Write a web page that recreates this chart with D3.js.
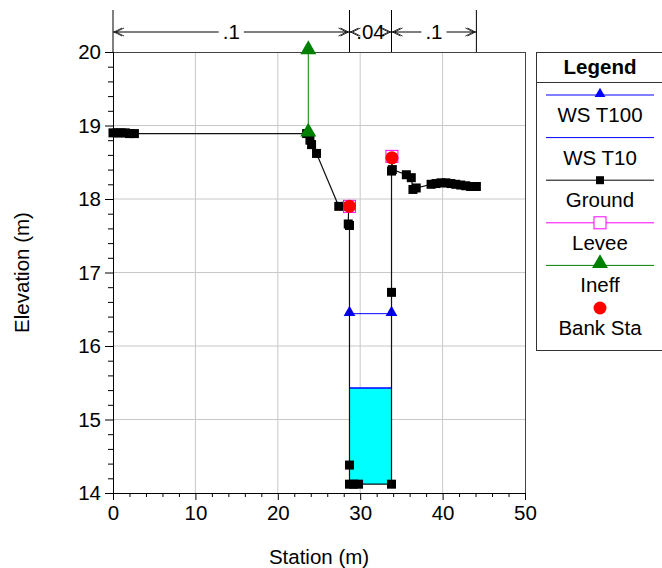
<!DOCTYPE html>
<html><head><meta charset="utf-8">
<script src="https://cdn.jsdelivr.net/npm/d3@7"></script>
<style>
html,body{margin:0;padding:0;background:#fff;}
svg{display:block;font-family:"Liberation Sans",Arial,sans-serif;}
</style></head>
<body><svg id="c" width="662" height="568"></svg>
<script>
// ---- data ----
const xTicks = [0,10,20,30,40,50];
const yTicks = [14,15,16,17,18,19,20];
const groundSta  = [0,0.5,1,1.5,2,2.6,23.5,23.9,24.1,24.7,27.4,28.6,28.55,28.7,28.7,28.7,29.2,29.8,33.8,33.8,33.8,33.85,33.9,35.6,36.2,36.4,36.8,38.6,39.2,39.8,40.4,41,41.6,42.2,42.8,43.4,44.1];
const groundElev = [18.9,18.9,18.9,18.9,18.89,18.89,18.89,18.8,18.74,18.62,17.9,17.9,17.66,17.64,14.38,14.12,14.12,14.12,14.12,16.73,18.38,18.56,18.4,18.33,18.29,18.13,18.15,18.2,18.21,18.22,18.22,18.21,18.2,18.19,18.18,18.17,18.17];
const wsT100Sta = [28.7,33.8];
const wsT100Elev = 16.44;
const wsT10Sta = [28.7,33.8];
const wsT10Elev = 15.43;
const leveeSta = [28.7,33.85];
const leveeElev = [17.9,18.58];
const ineffSta = [23.7,23.7];
const ineffElev = [18.9,20.02];
const bankSta = [28.7,33.85];
const bankElev = [17.9,18.56];
const nBreaks = [0,28.7,33.8,44.1];
const nValues = [".1",".04",".1"];
const legendItems = ["WS T100","WS T10","Ground","Levee","Ineff","Bank Sta"];

// ---- chart ----
const svg = d3.select("#c");
const x = d3.scaleLinear().domain([0,50]).range([113,525]);
const y = d3.scaleLinear().domain([14,20]).range([493,52]);
const FS = 20.5;
const FF = "Liberation Sans, Arial, sans-serif";

// grid
const g = svg.append("g");
g.selectAll(".gx").data(xTicks.slice(1,-1)).enter().append("line")
 .attr("x1",d=>x(d)).attr("x2",d=>x(d)).attr("y1",y(14)).attr("y2",y(20))
 .attr("stroke","#c8c8c8").attr("stroke-width",1);
g.selectAll(".gy").data(yTicks.slice(1,-1)).enter().append("line")
 .attr("y1",d=>y(d)).attr("y2",d=>y(d)).attr("x1",x(0)).attr("x2",x(50))
 .attr("stroke","#c8c8c8").attr("stroke-width",1);

// frame top/right
svg.append("line").attr("x1",x(0)).attr("x2",x(50)).attr("y1",y(20)+0.5).attr("y2",y(20)+0.5).attr("stroke","#444");
svg.append("line").attr("x1",x(50)+0.5).attr("x2",x(50)+0.5).attr("y1",y(20)).attr("y2",y(14)).attr("stroke","#444");

// axes
const xAxis = d3.axisBottom(x).tickValues(xTicks).tickSize(7).tickPadding(5).tickFormat(d3.format("d"));
const xg = svg.append("g").attr("transform",`translate(0,${y(14)})`).call(xAxis);
xg.attr("font-size",FS).attr("font-family",FF);
xg.selectAll("text").attr("fill","#000");
xg.select(".domain").attr("stroke","#000");
const xMinor = d3.axisBottom(x).tickValues(d3.range(0,51,2).filter(v=>v%10!==0)).tickSize(4).tickFormat("");
svg.append("g").attr("transform",`translate(0,${y(14)})`).call(xMinor).select(".domain").remove();

const yAxis = d3.axisLeft(y).tickValues(yTicks).tickSize(8).tickPadding(4).tickFormat(d3.format("d"));
const yg = svg.append("g").attr("transform",`translate(${x(0)},0)`).call(yAxis);
yg.attr("font-size",FS).attr("font-family",FF);
yg.selectAll("text").attr("fill","#000");
yg.select(".domain").attr("stroke","#000");
const yMinorVals = d3.range(140,201,2).map(v=>v/10).filter(v=>Math.abs(v-Math.round(v))>1e-6);
const yMinor = d3.axisLeft(y).tickValues(yMinorVals).tickSize(5).tickFormat("");
svg.append("g").attr("transform",`translate(${x(0)},0)`).call(yMinor).select(".domain").remove();

// axis titles
svg.append("text").attr("x",(x(0)+x(50))/2).attr("y",564).attr("text-anchor","middle").attr("font-size",FS).text("Station (m)");
svg.append("text").attr("transform",`translate(29,${(y(14)+y(20))/2}) rotate(-90)`).attr("text-anchor","middle").attr("font-size",FS).text("Elevation (m)");

// water T10 fill
const wetPts = [[wsT10Sta[0],wsT10Elev]];
groundSta.forEach((s,i)=>{ if(s>=wsT10Sta[0] && s<=wsT10Sta[1] && groundElev[i]<wsT10Elev) wetPts.push([s,groundElev[i]]); });
wetPts.push([wsT10Sta[1],wsT10Elev]);
svg.append("path").attr("d", d3.line().x(d=>x(d[0])).y(d=>y(d[1]))(wetPts)+"Z")
 .attr("fill","#00ffff").attr("stroke","none");
svg.append("line").attr("x1",x(wsT10Sta[0])).attr("x2",x(wsT10Sta[1])).attr("y1",y(wsT10Elev)).attr("y2",y(wsT10Elev)).attr("stroke","#0000ff").attr("stroke-width",1.5);

// WS T100
svg.append("line").attr("x1",x(wsT100Sta[0])).attr("x2",x(wsT100Sta[1])).attr("y1",y(wsT100Elev)).attr("y2",y(wsT100Elev)).attr("stroke","#0000ff").attr("stroke-width",1);
const tri = d3.symbol().type(d3.symbolTriangle);
svg.selectAll(".t100").data(wsT100Sta).enter().append("path")
 .attr("d",tri.size(60)()).attr("transform",d=>`translate(${x(d)},${y(wsT100Elev)-1})`).attr("fill","#0000ff");

// ground
const gline = d3.line().x((d,i)=>x(groundSta[i])).y((d,i)=>y(groundElev[i]));
svg.append("path").attr("d",gline(groundSta)).attr("fill","none").attr("stroke","#111").attr("stroke-width",1.2);
svg.selectAll(".gm").data(groundSta).enter().append("rect")
 .attr("x",(d)=>x(d)-4.5).attr("y",(d,i)=>y(groundElev[i])-4.5).attr("width",9).attr("height",9).attr("fill","#000");

// ineff
svg.append("line").attr("x1",x(ineffSta[0])).attr("x2",x(ineffSta[1])).attr("y1",y(ineffElev[0])).attr("y2",y(ineffElev[1])).attr("stroke","#008000").attr("stroke-width",1);
svg.selectAll(".im").data(ineffSta).enter().append("path")
 .attr("d",tri.size(110)()).attr("transform",(d,i)=>`translate(${x(d)},${y(ineffElev[i])-1})`).attr("fill","#008000");

// levee
svg.selectAll(".lv").data(leveeSta).enter().append("rect")
 .attr("x",d=>x(d)-6).attr("y",(d,i)=>y(leveeElev[i])-6).attr("width",12).attr("height",12)
 .attr("fill","none").attr("stroke","#ff00ff").attr("stroke-width",1);
// bank
svg.selectAll(".bk").data(bankSta).enter().append("circle")
 .attr("cx",d=>x(d)).attr("cy",(d,i)=>y(bankElev[i])).attr("r",6.5).attr("fill","#ff0000");

// n values annotation
const nTop = 10, nY = 32;
svg.selectAll(".nb").data(nBreaks).enter().append("line")
 .attr("x1",d=>x(d)).attr("x2",d=>x(d)).attr("y1",nTop).attr("y2",y(20)).attr("stroke","#000");
const nG = svg.append("g");
nValues.forEach((v,i)=>{
  const a = x(nBreaks[i]), b = x(nBreaks[i+1]), m=(a+b)/2;
  const lineG = nG.append("g");
  const t = nG.append("text").attr("x",m).attr("y",nY+7).attr("text-anchor","middle").attr("font-size",FS).text(v);
  const w = t.node().getComputedTextLength()+8;
  lineG.append("line").attr("x1",a).attr("x2",Math.max(a,m-w/2)).attr("y1",nY).attr("y2",nY).attr("stroke","#000");
  lineG.append("line").attr("x1",Math.min(b,m+w/2)).attr("x2",b).attr("y1",nY).attr("y2",nY).attr("stroke","#000");
  lineG.append("path").attr("d",`M${a+9},${nY-4}L${a+1},${nY}L${a+9},${nY+4}M${a+11},${nY-4}L${a+3},${nY}L${a+11},${nY+4}`).attr("fill","none").attr("stroke","#000").attr("stroke-width",0.8);
  lineG.append("path").attr("d",`M${b-9},${nY-4}L${b-1},${nY}L${b-9},${nY+4}M${b-11},${nY-4}L${b-3},${nY}L${b-11},${nY+4}`).attr("fill","none").attr("stroke","#000").attr("stroke-width",0.8);
});

// legend
const L = svg.append("g");
L.append("rect").attr("x",536.5).attr("y",52.5).attr("width",140).attr("height",298).attr("fill","#fff").attr("stroke","#333");
L.append("line").attr("x1",536).attr("x2",662).attr("y1",82.5).attr("y2",82.5).attr("stroke","#333");
L.append("text").attr("x",600).attr("y",74).attr("text-anchor","middle").attr("font-size",FS).attr("font-weight","bold").text("Legend");
const lx1=546, lx2=654, cx=600;
legendItems.forEach((name,i)=>{
  const ly = 95 + i*42.6;
  if(name==="WS T100"){ L.append("line").attr("x1",lx1).attr("x2",lx2).attr("y1",ly).attr("y2",ly).attr("stroke","#0000ff");
    L.append("path").attr("d",tri.size(50)()).attr("transform",`translate(${cx},${ly-1})`).attr("fill","#0000ff"); }
  if(name==="WS T10"){ L.append("line").attr("x1",lx1).attr("x2",lx2).attr("y1",ly).attr("y2",ly).attr("stroke","#0000ff"); }
  if(name==="Ground"){ L.append("line").attr("x1",lx1).attr("x2",lx2).attr("y1",ly).attr("y2",ly).attr("stroke","#000");
    L.append("rect").attr("x",cx-4).attr("y",ly-4).attr("width",8).attr("height",8).attr("fill","#000"); }
  if(name==="Levee"){ L.append("line").attr("x1",lx1).attr("x2",lx2).attr("y1",ly).attr("y2",ly).attr("stroke","#ff00ff");
    L.append("rect").attr("x",cx-6).attr("y",ly-6).attr("width",12).attr("height",12).attr("fill","#fff").attr("stroke","#ff00ff"); }
  if(name==="Ineff"){ L.append("line").attr("x1",lx1).attr("x2",lx2).attr("y1",ly).attr("y2",ly).attr("stroke","#008000");
    L.append("path").attr("d",tri.size(110)()).attr("transform",`translate(${cx},${ly-2})`).attr("fill","#008000"); }
  if(name==="Bank Sta"){ L.append("circle").attr("cx",cx).attr("cy",ly).attr("r",6.5).attr("fill","#ff0000"); }
  L.append("text").attr("x",cx).attr("y",ly+27).attr("text-anchor","middle").attr("font-size",FS).text(name);
});
</script></body></html>
